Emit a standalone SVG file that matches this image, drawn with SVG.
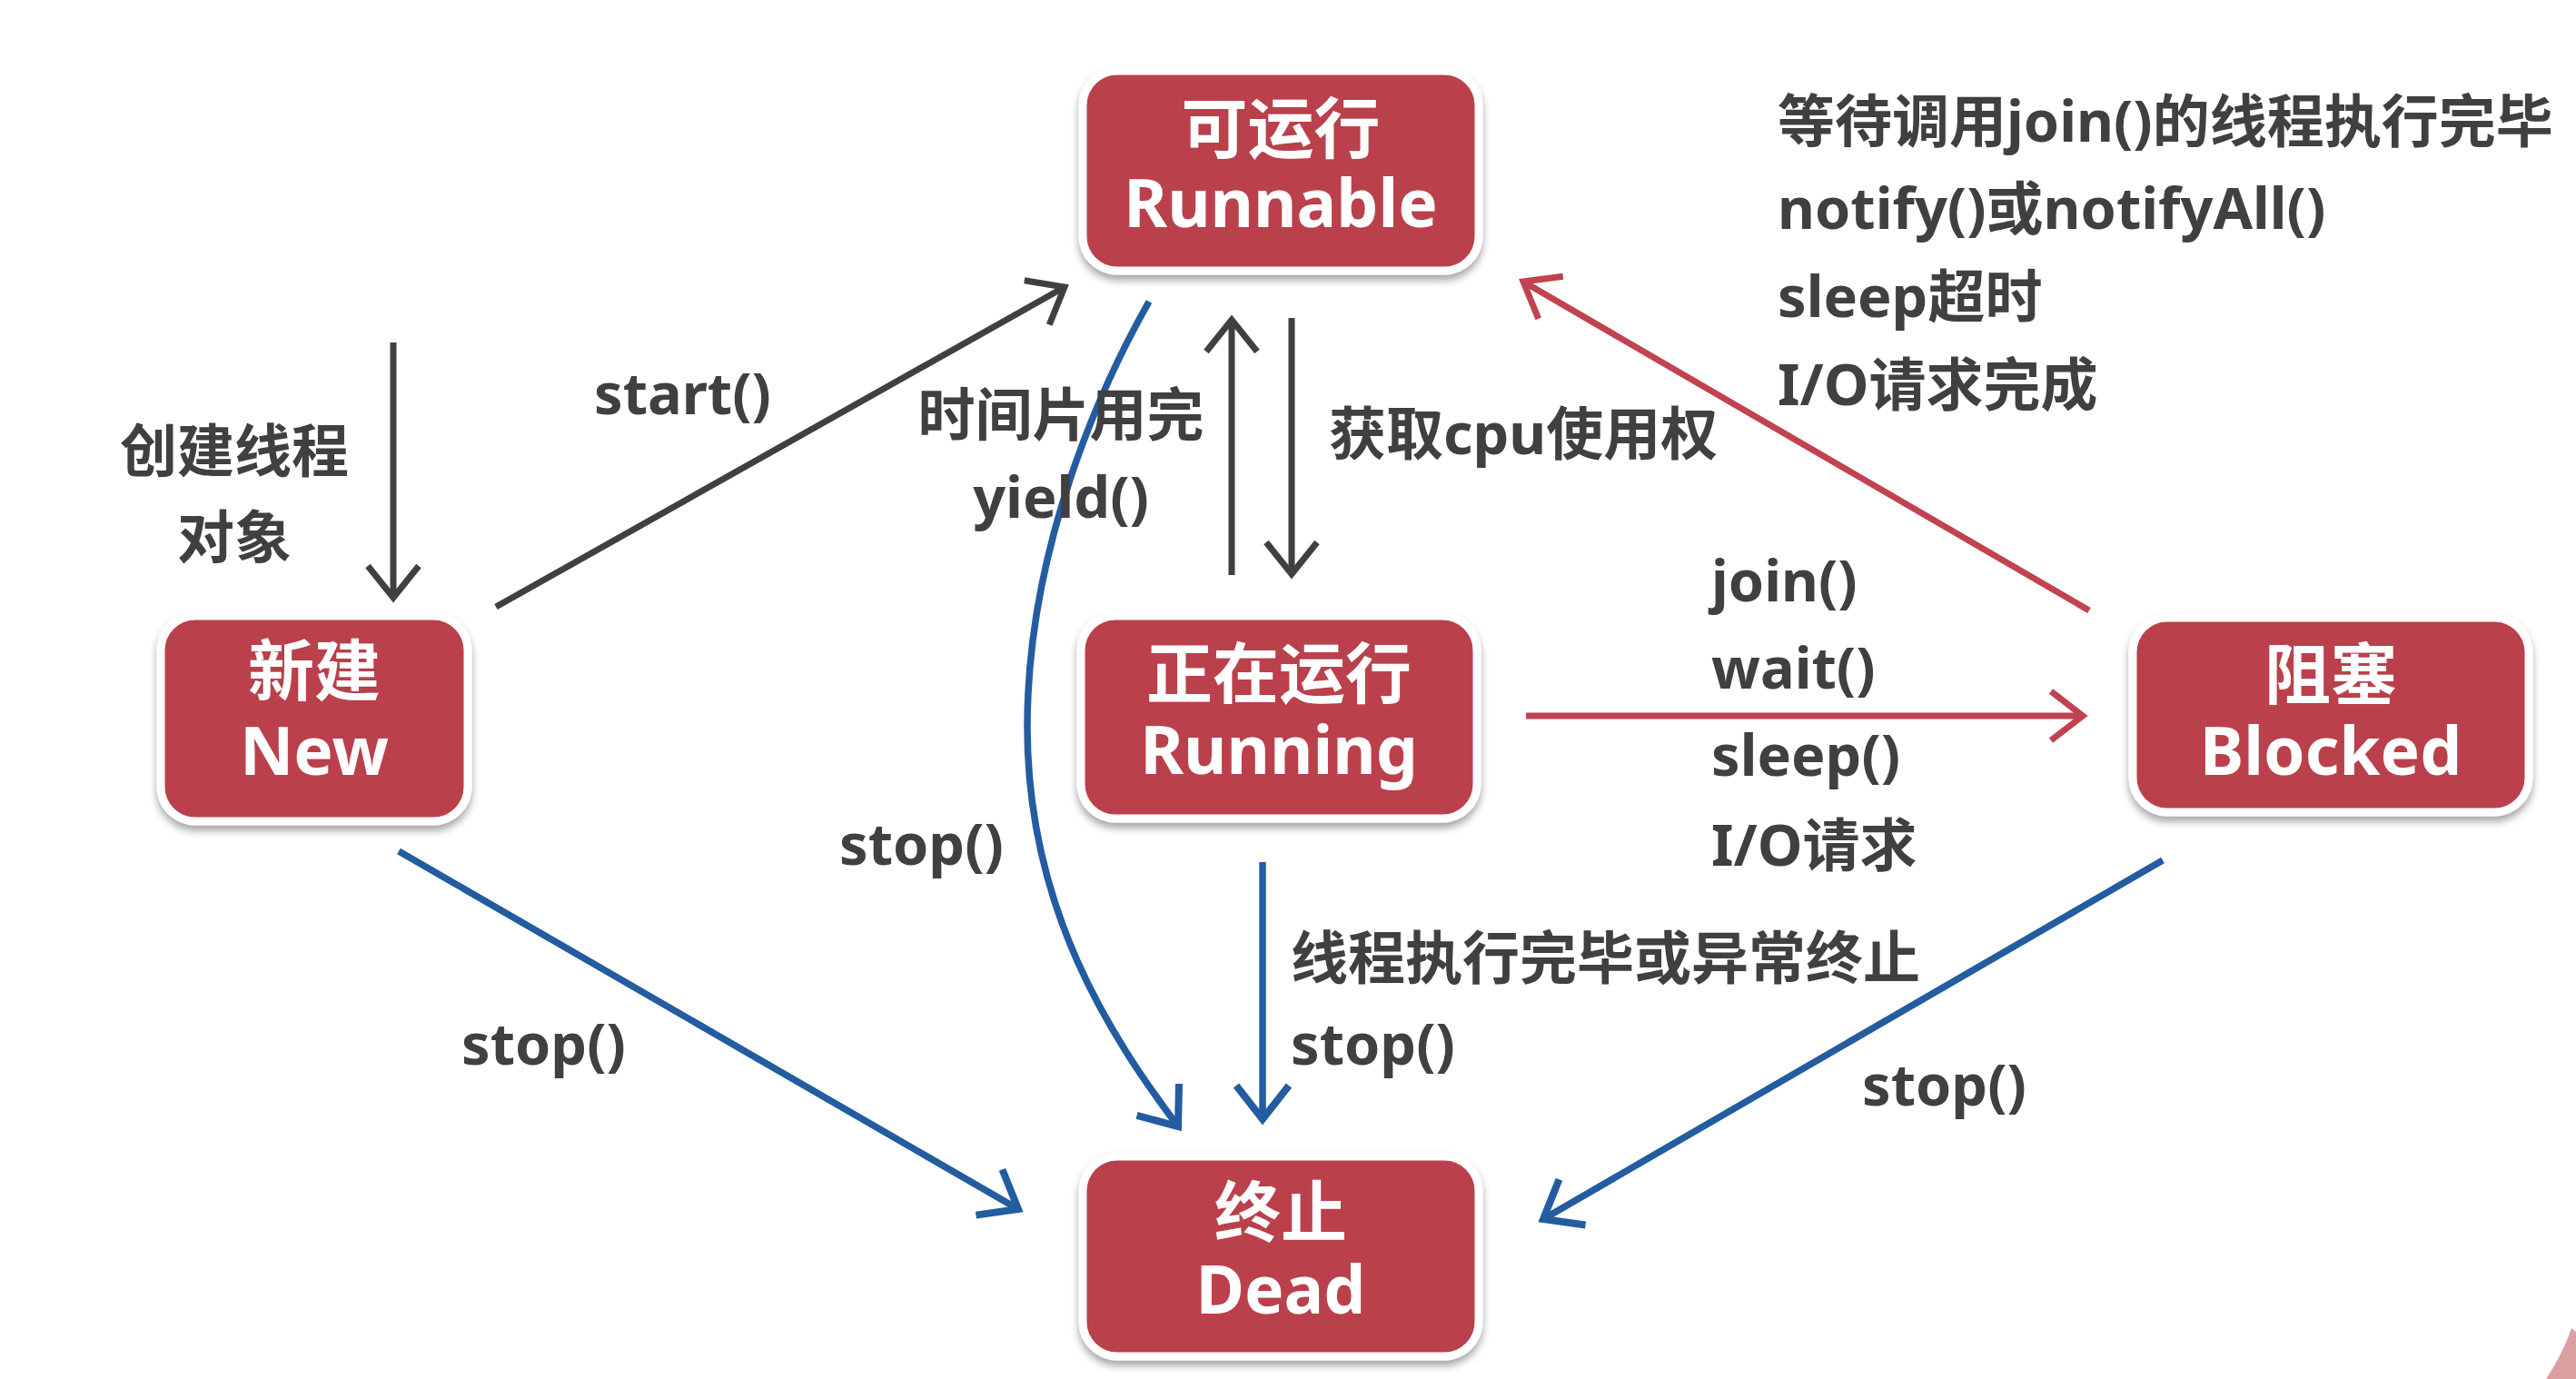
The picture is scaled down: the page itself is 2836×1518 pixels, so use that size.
<svg xmlns="http://www.w3.org/2000/svg" width="2836" height="1518" viewBox="0 0 2836 1518">
<style>
.node rect{fill:#BA414C;stroke:#ffffff;stroke-width:9;filter:url(#shadow)}
.node text{font-family:'Noto Sans','Noto Sans CJK SC',sans-serif;font-weight:700;font-size:73px;fill:#ffffff;text-anchor:middle}
.lbl{font-family:'Noto Sans','Noto Sans CJK SC',sans-serif;font-weight:700;font-size:63px;fill:#404040}
.mid{text-anchor:middle}
.gray{fill:none;stroke:#404040;stroke-width:7;marker-end:url(#ag)}
.red{fill:none;stroke:#C0434F;stroke-width:7;marker-end:url(#ar)}
.blue{fill:none;stroke:#235CA0;stroke-width:7.5;marker-end:url(#ab)}
</style>
<defs>
<filter id="shadow" x="-10%" y="-10%" width="120%" height="130%">
<feDropShadow dx="0" dy="6" stdDeviation="4" flood-color="#000000" flood-opacity="0.35"/>
</filter>
<marker id="ag" markerUnits="userSpaceOnUse" markerWidth="10" markerHeight="10" refX="0" refY="0" orient="auto" overflow="visible">
<path d="M-35,-28 L0,0 L-35,28" fill="none" stroke="#404040" stroke-width="7"/>
</marker>
<marker id="ar" markerUnits="userSpaceOnUse" markerWidth="10" markerHeight="10" refX="0" refY="0" orient="auto" overflow="visible">
<path d="M-35,-27 L0,0 L-35,27" fill="none" stroke="#C0434F" stroke-width="7"/>
</marker>
<marker id="ab" markerUnits="userSpaceOnUse" markerWidth="10" markerHeight="10" refX="0" refY="0" orient="auto" overflow="visible">
<path d="M-37,-29 L0,0 L-37,29" fill="none" stroke="#235CA0" stroke-width="8"/>
</marker>
</defs>
<rect x="0" y="0" width="2836" height="1518" fill="#ffffff"/>
<path d="M2831,1462 C2826,1478 2815,1500 2803,1518 L2836,1518 L2836,1466 Z" fill="#DCA0A3"/>

<g id="connectors">
<path class="gray" d="M433,377 L433,658"/>
<path class="gray" d="M546,668 L1172,316"/>
<path class="gray" d="M1356,633 L1356,352"/>
<path class="gray" d="M1422,350 L1422,632"/>
<path class="red" d="M1680,788 L2293,788"/>
<path class="red" d="M2300,672 L1677,310"/>
<path class="blue" d="M439,937 L1121,1331"/>
<path class="blue" d="M1390,949 L1390,1232"/>
<path class="blue" d="M2381,947 L1699,1342"/>
<path class="blue" d="M1265,332 C1215,420 1131,600 1131,800 C1131,1000 1222,1140 1297,1240"/>
</g>

<g id="labels">
<text class="lbl mid" x="258" y="519">创建线程</text>
<text class="lbl mid" x="258" y="614">对象</text>
<text class="lbl" x="654" y="456">start()</text>
<text class="lbl mid" x="1168" y="479">时间片用完</text>
<text class="lbl mid" x="1168" y="570">yield()</text>
<text class="lbl" x="1463" y="500">获取cpu使用权</text>
<text class="lbl" x="1957" y="156">等待调用join()的线程执行完毕</text>
<text class="lbl" x="1957" y="252">notify()或notifyAll()</text>
<text class="lbl" x="1957" y="349">sleep超时</text>
<text class="lbl" x="1957" y="446">I/O请求完成</text>
<text class="lbl" x="1884" y="662">join()</text>
<text class="lbl" x="1884" y="758">wait()</text>
<text class="lbl" x="1884" y="854">sleep()</text>
<text class="lbl" x="1884" y="953">I/O请求</text>
<text class="lbl" x="924" y="952">stop()</text>
<text class="lbl" x="508" y="1172">stop()</text>
<text class="lbl" x="1421" y="1077">线程执行完毕或异常终止</text>
<text class="lbl" x="1421" y="1172">stop()</text>
<text class="lbl" x="2050" y="1217">stop()</text>
</g>

<g id="node-runnable" class="node">
<rect x="1192" y="78" width="436" height="220" rx="38"/>
<text x="1410" y="168">可运行</text>
<text x="1410" y="250">Runnable</text>
</g>
<g id="node-new" class="node">
<rect x="177" y="678" width="338" height="226" rx="38"/>
<text x="346" y="765">新建</text>
<text x="346" y="853">New</text>
</g>
<g id="node-running" class="node">
<rect x="1190" y="678" width="436" height="223" rx="38"/>
<text x="1408" y="768">正在运行</text>
<text x="1408" y="852">Running</text>
</g>
<g id="node-blocked" class="node">
<rect x="2348" y="680" width="436" height="214" rx="38"/>
<text x="2566" y="769">阻塞</text>
<text x="2566" y="853">Blocked</text>
</g>
<g id="node-dead" class="node">
<rect x="1192" y="1273" width="436" height="220" rx="38"/>
<text x="1410" y="1361">终止</text>
<text x="1410" y="1446">Dead</text>
</g>
</svg>
